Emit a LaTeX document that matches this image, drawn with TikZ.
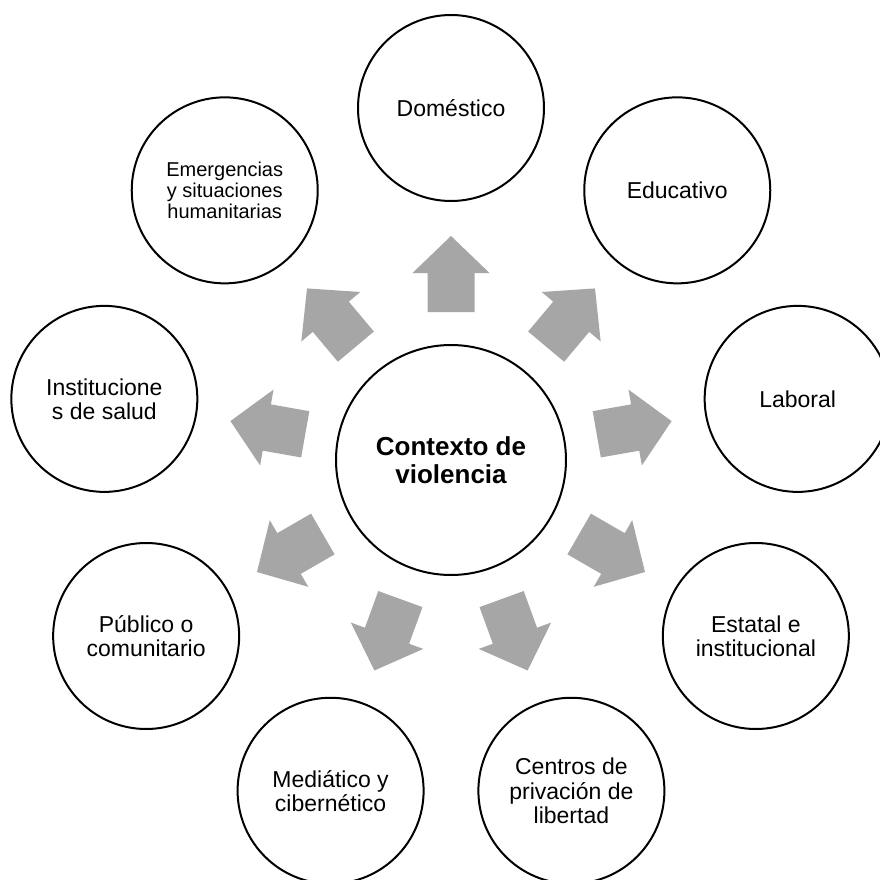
\documentclass[tikz,border=0pt]{standalone}
\usepackage{fontspec}
\setmainfont{Liberation Sans}
\definecolor{arrowgray}{HTML}{A6A6A6}
\begin{document}
\begin{tikzpicture}[x=1pt,y=1pt,
  outer/.style={circle, draw=black, line width=2pt, minimum size=186pt, inner sep=0pt, align=center, font=\fontsize{23}{24.2}\selectfont},
  smalltext/.style={font=\fontsize{20}{20.7}\selectfont},
  hub/.style={circle, draw=black, line width=2pt, minimum size=230pt, inner sep=0pt, align=center, font=\bfseries\fontsize{26}{28}\selectfont},
  blockarrow/.style={fill=arrowgray, draw=none}]
\useasboundingbox (-451,-419) rectangle (429,460);
\clip (-451,-419) rectangle (429,460);
\fill[white] (-451,-419) rectangle (429,460);
\node[hub] (ctx) at (0,0) {Contexto de\\violencia};
\node[outer] (dom) at (90:352) {Doméstico};
\node[outer] (edu) at (50:352) {Educativo};
\node[outer] (lab) at (10:352) {Laboral};
\node[outer] (est) at (-30:352) {Estatal e\\institucional};
\node[outer] (cen) at (-70:352) {Centros de\\privación de\\libertad};
\node[outer] (med) at (-110:352) {Mediático y\\cibernético};
\node[outer] (pub) at (-150:352) {Público o\\comunitario};
\node[outer] (ins) at (170:352) {Institucione\\s de salud};
\node[outer, smalltext] (eme) at (130:352) {Emergencias\\y situaciones\\humanitarias};
\foreach \a in {90,50,10,-30,-70,-110,-150,170,130} {
  \fill[blockarrow, rotate=\a] (148,-23.5) -- (187,-23.5) -- (187,-38.5) -- (224,0) -- (187,38.5) -- (187,23.5) -- (148,23.5) -- cycle;
}
\end{tikzpicture}
\end{document}
